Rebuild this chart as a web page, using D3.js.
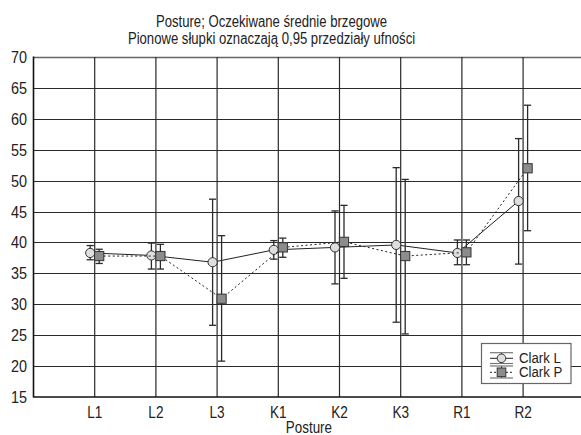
<!DOCTYPE html>
<html><head><meta charset="utf-8">
<script src="https://cdn.jsdelivr.net/npm/d3@7"></script>
<style>body{margin:0;background:#fff}svg{display:block}text{font-family:"Liberation Sans",Arial,sans-serif;fill:#222}</style></head>
<body><svg id="c" width="581" height="435"></svg>
<script>
const categories=["L1","L2","L3","K1","K2","K3","R1","R2"];
const clarkL=[38.3,37.9,36.8,38.8,39.2,39.6,38.3,46.7];
const clarkLLow=[37.2,35.7,26.6,37.3,33.3,27.1,36.4,36.5];
const clarkLHigh=[39.5,39.9,47.0,40.3,45.1,52.1,40.4,56.8];
const clarkP=[37.8,37.8,30.9,39.2,40.1,37.8,38.4,52.0];
const clarkPLow=[36.6,35.7,20.8,37.6,34.2,25.2,36.4,41.9];
const clarkPHigh=[38.9,39.7,41.1,40.7,46.0,50.2,40.4,62.2];
const yTicks=[15,20,25,30,35,40,45,50,55,60,65,70];
const seriesNames=["Clark L","Clark P"];
const titleLines=["Posture; Oczekiwane średnie brzegowe","Pionowe słupki oznaczają 0,95 przedziały ufności"];
const xTitle="Posture";

const svg=d3.select("#c");
const L=33.5,R=584.3,T=57,B=397;
const x=d3.scalePoint().domain(categories).range([L,R]).padding(1);
const y=d3.scaleLinear().domain([15,70]).range([B,T]);

function ntext(g,px,py,str,size,anchor,sc){
  return g.append("text").attr("transform",`translate(${px},${py}) scale(${sc||0.82},1)`)
    .attr("text-anchor",anchor).attr("font-size",size).text(str);
}

// grid
const grid=svg.append("g");
grid.selectAll("line.h").data(yTicks.filter(v=>v>15)).join("line")
  .attr("x1",L).attr("x2",581).attr("y1",d=>Math.round(y(d))+0.5).attr("y2",d=>Math.round(y(d))+0.5)
  .attr("stroke",d=>d===70?"#666":"#2a2a2a").attr("stroke-width",d=>d===70?1.6:1.2);
grid.selectAll("line.v").data(categories).join("line")
  .attr("x1",d=>x(d)).attr("x2",d=>x(d)).attr("y1",T).attr("y2",B)
  .attr("stroke","#2a2a2a").attr("stroke-width",1.2);

// axes
const yAxis=d3.axisLeft(y).tickValues(yTicks).tickSize(0).tickFormat(d3.format("d"));
const ga=svg.append("g").attr("transform",`translate(${L},0)`).call(yAxis);
ga.select(".domain").remove();
ga.selectAll("text").remove();
yTicks.forEach(v=>ntext(svg,27,y(v)+6,String(v),16,"end",0.9));
svg.append("line").attr("x1",L).attr("x2",L).attr("y1",T-0.5).attr("y2",B+0.5).attr("stroke","#111").attr("stroke-width",1.6);
svg.append("line").attr("x1",L).attr("x2",581).attr("y1",B).attr("y2",B).attr("stroke","#111").attr("stroke-width",1.6);
const xAxis=d3.axisBottom(x).tickSize(0);
const gx=svg.append("g").attr("transform",`translate(0,${B})`).call(xAxis);
gx.select(".domain").remove(); gx.selectAll("text").remove();
categories.forEach(c=>ntext(svg,x(c),417.5,c,16,"middle",0.85));
ntext(svg,(L+R)/2,433,xTitle,16,"middle",0.84);

// titles
ntext(svg,271.5,26.5,titleLines[0],16,"middle");
ntext(svg,271.5,43.5,titleLines[1],16,"middle");

const off=4.5, cap=3.6;
function drawSeries(vals,lo,hi,dx,dashed,shape){
  const g=svg.append("g");
  const line=d3.line().x((d,i)=>x(categories[i])+dx).y(d=>y(d));
  g.append("path").datum(vals).attr("d",line).attr("fill","none").attr("stroke","#222")
    .attr("stroke-width",1).attr("stroke-dasharray",dashed?"2,2.5":null);
  categories.forEach((c,i)=>{
    const cx=x(c)+dx;
    g.append("line").attr("x1",cx).attr("x2",cx).attr("y1",y(hi[i])).attr("y2",y(lo[i])).attr("stroke","#2a2a2a").attr("stroke-width",1.3);
    [hi[i],lo[i]].forEach(v=>g.append("line").attr("x1",cx-cap).attr("x2",cx+cap).attr("y1",y(v)).attr("y2",y(v)).attr("stroke","#2a2a2a").attr("stroke-width",1.3));
  });
  categories.forEach((c,i)=>{
    const cx=x(c)+dx, cy=y(vals[i]);
    if(shape==="circle") g.append("circle").attr("cx",cx).attr("cy",cy).attr("r",4.6).attr("fill","#dedede").attr("stroke","#333").attr("stroke-width",1);
    else g.append("rect").attr("x",cx-4.6).attr("y",cy-4.6).attr("width",9.2).attr("height",9.2).attr("fill","#8c8c8c").attr("stroke","#333").attr("stroke-width",1);
  });
}
drawSeries(clarkL,clarkLLow,clarkLHigh,-off,false,"circle");
drawSeries(clarkP,clarkPLow,clarkPHigh,off,true,"square");

// legend
const lg=svg.append("g");
lg.append("rect").attr("x",481.5).attr("y",343.5).attr("width",89.5).attr("height",40).attr("fill","#fff").attr("stroke","#666").attr("stroke-width",1.2);
const sx=501.5;
[[352.7,358.3,363.5,"circle",false],[366,372.3,378,"square",true]].forEach((r,i)=>{
  lg.append("line").attr("x1",sx).attr("x2",sx).attr("y1",r[0]).attr("y2",r[2]).attr("stroke","#333");
  [r[0],r[2]].forEach(v=>lg.append("line").attr("x1",490).attr("x2",513).attr("y1",v).attr("y2",v).attr("stroke","#777").attr("stroke-width",1.2));
  lg.append("line").attr("x1",490).attr("x2",513).attr("y1",r[1]).attr("y2",r[1]).attr("stroke","#222").attr("stroke-dasharray",r[4]?"2,2":null);
  if(r[3]==="circle") lg.append("circle").attr("cx",sx).attr("cy",r[1]).attr("r",4.3).attr("fill","#dedede").attr("stroke","#333");
  else lg.append("rect").attr("x",sx-4.3).attr("y",r[1]-4.3).attr("width",8.6).attr("height",8.6).attr("fill","#8c8c8c").attr("stroke","#333");
  ntext(lg,519,r[1]+4.5,seriesNames[i],15,"start",0.88);
});
</script></body></html>
